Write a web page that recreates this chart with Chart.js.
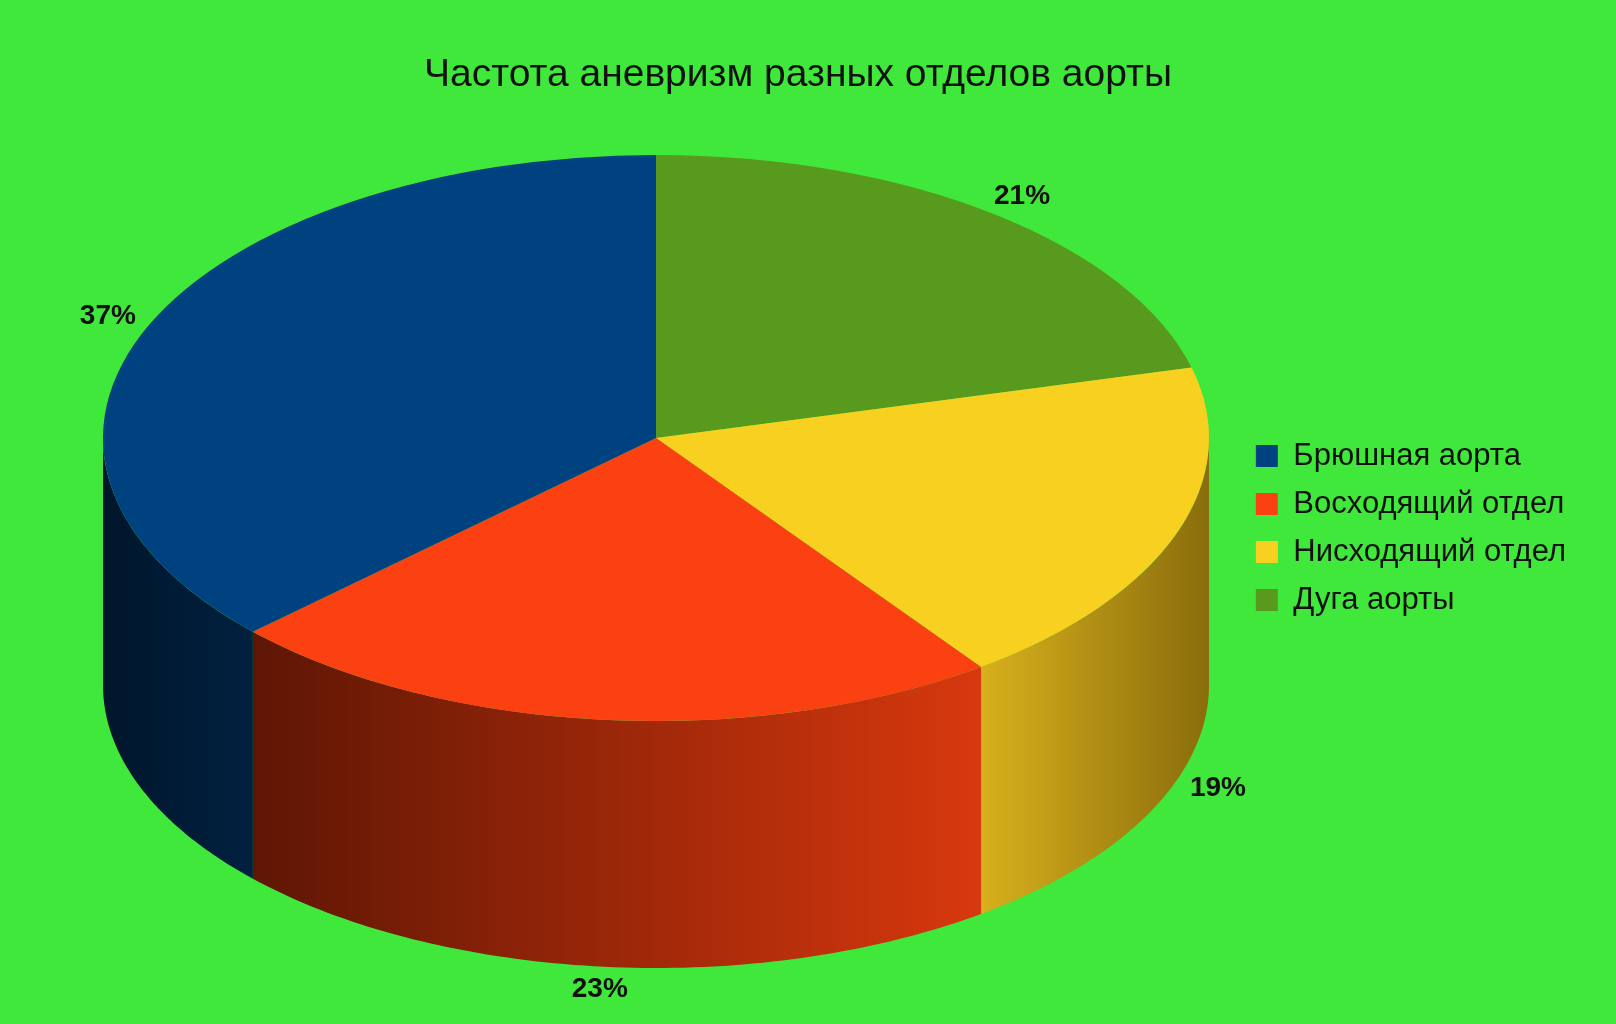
<!DOCTYPE html>
<html>
<head>
<meta charset="utf-8">
<script src="https://cdn.jsdelivr.net/npm/chart.js@4"></script>
<style>
  html, body { margin: 0; padding: 0; background: #41e83c; }
  #wrap { width: 1616px; height: 1024px; }
</style>
</head>
<body>
<div id="wrap"><canvas id="chart"></canvas></div>
<script>
// Slices go counterclockwise in the picture, so data is stored reversed and the legend is reversed back
const labels = ["Дуга аорты", "Нисходящий отдел", "Восходящий отдел", "Брюшная аорта"];
const values = [21, 19, 23, 37];
const topColors = ["#579a1d", "#f8d01f", "#fb4112", "#00427f"];
const sideDark = ["#2f5a0c", "#8a6d0c", "#5e1604", "#00162c"];
const sideLight = ["#4a8a16", "#d8b01c", "#d8380e", "#00213f"];

// where the flattened pie sits on the page
const pie3d = { cx: 656, cy: 438, rx: 553, ry: 283, depth: 247 };

const pie3dPlugin = {
  id: "pie3d",
  beforeDatasetsDraw(chart) {
    const ctx = chart.ctx;
    const arcs = chart.getDatasetMeta(0).data;
    const R = arcs[0].outerRadius;
    const { cx, cy, rx, ry, depth } = pie3d;
    ctx.save();
    // side walls, only the front half (0..PI) is visible
    arcs.forEach((arc, i) => {
      const a = Math.max(arc.startAngle, 0);
      const b = Math.min(arc.endAngle, Math.PI);
      if (b <= a) return;
      const xa = cx + rx * Math.cos(a), xb = cx + rx * Math.cos(b);
      const g = ctx.createLinearGradient(Math.min(xa, xb), 0, Math.max(xa, xb), 0);
      if (i === 1) { // yellow: light at left, dark at right
        g.addColorStop(0, sideLight[i]);
        g.addColorStop(1, sideDark[i]);
      } else {
        g.addColorStop(0, sideDark[i]);
        g.addColorStop(1, sideLight[i]);
      }
      ctx.beginPath();
      const n = 80;
      for (let k = 0; k <= n; k++) {
        const t = a + (b - a) * k / n;
        const x = cx + rx * Math.cos(t), y = cy + ry * Math.sin(t);
        if (k === 0) ctx.moveTo(x, y); else ctx.lineTo(x, y);
      }
      for (let k = n; k >= 0; k--) {
        const t = a + (b - a) * k / n;
        ctx.lineTo(cx + rx * Math.cos(t), cy + ry * Math.sin(t) + depth);
      }
      ctx.closePath();
      ctx.fillStyle = g;
      ctx.fill();
    });
    // flatten the pie top
    ctx.translate(cx, cy);
    ctx.scale(rx / R, ry / R);
    ctx.translate(-arcs[0].x, -arcs[0].y);
  },
  afterDatasetsDraw(chart) {
    const ctx = chart.ctx;
    ctx.restore();
    const arcs = chart.getDatasetMeta(0).data;
    const { cx, cy, rx, ry, depth } = pie3d;
    const total = values.reduce((s, v) => s + v, 0);
    ctx.save();
    ctx.font = "bold 28px 'Liberation Sans', Arial, sans-serif";
    ctx.fillStyle = "#111";
    ctx.textAlign = "center";
    ctx.textBaseline = "middle";
    arcs.forEach((arc, i) => {
      const m = (arc.startAngle + arc.endAngle) / 2;
      const x = cx + rx * 1.08 * Math.cos(m);
      let y = cy + ry * 1.08 * Math.sin(m);
      if (Math.sin(m) > 0) y += depth;
      ctx.fillText(Math.round(values[i] / total * 100) + "%", x, y);
    });
    ctx.restore();
  }
};

new Chart(document.getElementById("chart"), {
  type: "pie",
  data: {
    labels: labels,
    datasets: [{
      data: values,
      backgroundColor: topColors,
      borderWidth: 0
    }]
  },
  options: {
    responsive: true,
    maintainAspectRatio: false,
    animation: false,
    events: [],
    layout: { padding: { top: 52, right: 40, bottom: 20, left: 20 } },
    plugins: {
      title: {
        display: true,
        text: "Частота аневризм разных отделов аорты",
        color: "#111",
        font: { family: "'Liberation Sans', Arial, sans-serif", size: 39, weight: "normal" },
        padding: { top: 0, bottom: 20 }
      },
      legend: {
        position: "right",
        reverse: true,
        labels: {
          color: "#111",
          font: { family: "'Liberation Sans', Arial, sans-serif", size: 31 },
          boxWidth: 22,
          boxHeight: 22,
          padding: 17
        }
      },
      tooltip: { enabled: false }
    }
  },
  plugins: [pie3dPlugin]
});
</script>
</body>
</html>
